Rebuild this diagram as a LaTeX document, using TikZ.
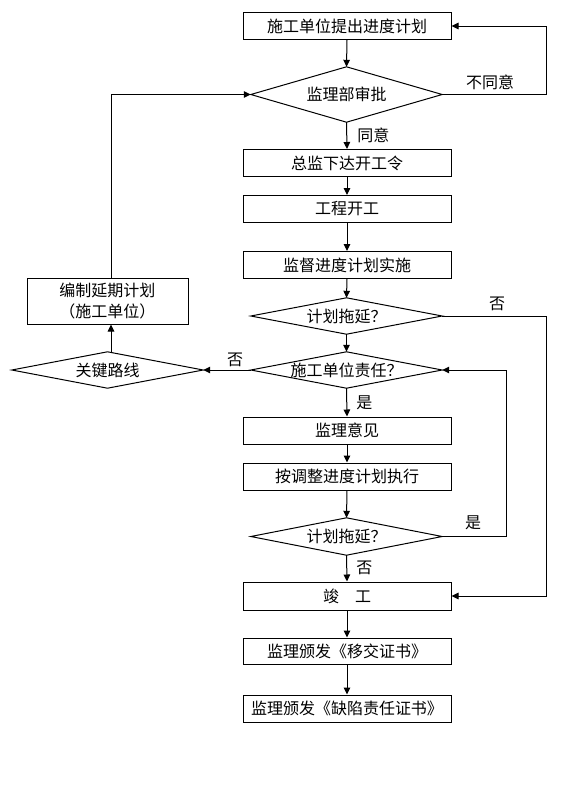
\documentclass[tikz,border=0pt]{standalone}
\usepackage{fontspec}
\newfontfamily\cjk{Noto Sans CJK SC}
\usetikzlibrary{arrows.meta}
\begin{document}
\begin{tikzpicture}[x=1pt,y=-1pt,
  every node/.style={font=\cjk\fontsize{16}{19}\selectfont},
  box/.style={draw, line width=1pt, minimum width=208pt, minimum height=27pt, inner sep=0pt},
  dia/.style={minimum width=191pt, minimum height=36pt, inner sep=0pt},
  lbl/.style={inner sep=0pt},
  arr/.style={line width=1pt, -{Triangle[length=7pt,width=6.5pt]}},
  ln/.style={line width=1pt}]
\useasboundingbox (0,0) rectangle (562,807);
\fill[white] (0,0) rectangle (562,807);
% main column
\node[box] (b1) at (347,26) {施工单位提出进度计划};
\node[dia, minimum height=55pt] (d1) at (346.5,94.5) {监理部审批};
\node[box] (b2) at (347,163) {总监下达开工令};
\node[box] (b3) at (347,209) {工程开工};
\node[box] (b4) at (347,265) {监督进度计划实施};
\node[dia] (d2) at (346.5,316) {计划拖延？};
\node[dia] (d3) at (346.5,370) {施工单位责任？};
\node[box] (b5) at (347,430.5) {监理意见};
\node[box] (b6) at (347,476.5) {按调整进度计划执行};
\node[dia, minimum height=37pt] (d4) at (346.5,536.5) {计划拖延？};
\node[box, minimum height=28pt] (b7) at (347,596) {竣\hspace{1em}工};
\node[box, minimum height=26pt] (b8) at (347,651) {监理颁发《移交证书》};
\node[box] (b9) at (347,708.5) {监理颁发《缺陷责任证书》};
% left column
\node[dia] (d5) at (107.5,370) {关键路线};
\node[draw, line width=1pt, minimum width=161pt, minimum height=46pt, inner sep=0pt, align=center,
      font=\cjk\fontsize{16}{21}\selectfont] (b10) at (107.5,301) {编制延期计划\\（施工单位）};
% diamonds
\foreach \n in {d1,d2,d3,d4,d5}
  \draw[ln] (\n.north) -- (\n.east) -- (\n.south) -- (\n.west) -- cycle;
% helper coordinates
\coordinate (xr) at (546,0);
\coordinate (xm) at (506,0);
\coordinate (xl) at (111,0);
% main flow
\draw[arr] (b1.south) -- (d1.north);
\draw[arr] (d1.south) -- node[lbl, right=10pt] {同意} (b2.north);
\draw[arr] (b2.south) -- (b3.north);
\draw[arr] (b3.south) -- (b4.north);
\draw[arr] (b4.south) -- (d2.north);
\draw[arr] (d2.south) -- (d3.north);
\draw[arr] (d3.south) -- node[lbl, right=9pt] {是} (b5.north);
\draw[arr] (b5.south) -- (b6.north);
\draw[arr] (b6.south) -- (d4.north);
\draw[arr] (d4.south) -- node[lbl, right=9pt] {否} (b7.north);
\draw[arr] (b7.south) -- (b8.north);
\draw[arr] (b8.south) -- (b9.north);
% loops
\draw[arr] (d1.east) -- node[lbl, above=4pt, xshift=-4pt] {不同意} (d1.east -| xr) |- (b1.east);
\draw[arr] (d2.east) -- node[lbl, above=5pt, xshift=3pt] {否} (d2.east -| xr) |- (b7.east);
\draw[arr] (d4.east) -- node[lbl, above=6pt, xshift=-1pt] {是} (d4.east -| xm) |- (d3.east);
\draw[arr] (d3.west) -- node[lbl, above=3pt, xshift=8pt] {否} (d5.east);
\draw[arr] (d5.north -| xl) -- (b10.south -| xl);
\draw[arr] (b10.north -| xl) -- (xl |- d1.west) -- (d1.west);
\end{tikzpicture}
\end{document}
